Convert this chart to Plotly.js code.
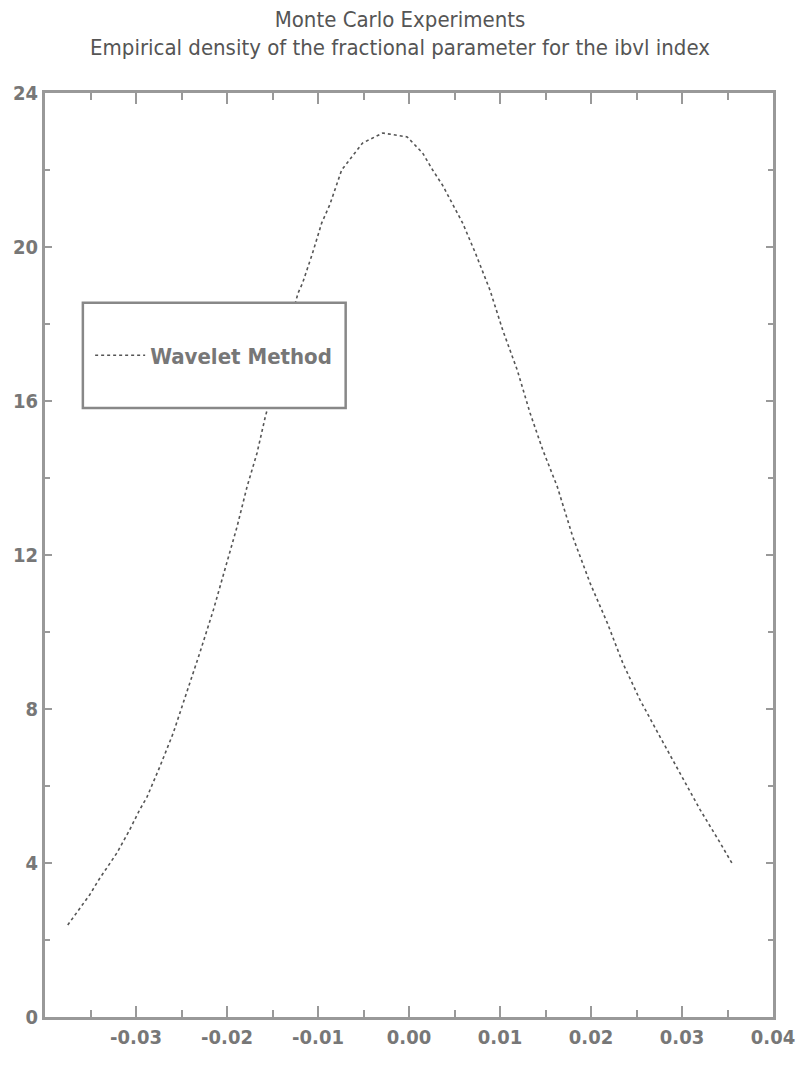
<!DOCTYPE html>
<html>
<head>
<meta charset="utf-8">
<script src="https://cdn.plot.ly/plotly-3.0.1.min.js"></script>
<style>html,body{margin:0;padding:0;background:#fff;}#chart{width:800px;height:1065px;}</style>
</head>
<body>
<div id="chart"></div>
<script>
var seriesName = "Wavelet Method";
var densityX = [-0.0375, -0.0351, -0.0341, -0.0321, -0.0307, -0.0296, -0.0288, -0.0281, -0.0274, -0.0259,
  -0.0244, -0.0230, -0.0215, -0.0200, -0.0189, -0.0178, -0.0167, -0.0158, -0.0122, -0.0117,
  -0.0106, -0.0096, -0.0087, -0.0074, -0.0051, -0.0029, -0.0002, 0.0015, 0.0026, 0.0037,
  0.0048, 0.0059, 0.0073, 0.0089, 0.0103, 0.0119, 0.0133, 0.0147, 0.0163, 0.0180,
  0.0199, 0.0218, 0.0235, 0.0254, 0.0276, 0.0298, 0.0320, 0.0342, 0.0356];
var densityY = [2.39, 3.17, 3.56, 4.26, 4.86, 5.38, 5.71, 6.10, 6.49, 7.38,
  8.42, 9.45, 10.57, 11.79, 12.73, 13.77, 14.65, 15.58, 18.80, 19.06,
  19.84, 20.62, 21.10, 22.00, 22.70, 22.96, 22.86, 22.44, 22.00, 21.60,
  21.10, 20.62, 19.84, 18.88, 17.84, 16.80, 15.69, 14.73, 13.77, 12.47,
  11.27, 10.23, 9.19, 8.23, 7.27, 6.34, 5.38, 4.52, 3.95];
var xTickVals = [-0.03, -0.02, -0.01, 0.00, 0.01, 0.02, 0.03, 0.04];
var xTickText = ["-0.03", "-0.02", "-0.01", "0.00", "0.01", "0.02", "0.03", "0.04"];
var yTickVals = [0, 4, 8, 12, 16, 20, 24];
var yTickText = ["0", "4", "8", "12", "16", "20", "24"];

var fam = "DejaVu Sans Condensed, Liberation Sans Narrow, sans-serif";
var tickFont = {family: fam, size: 20, color: "#777", weight: "bold"};

var trace = {
  x: densityX, y: densityY, type: "scatter", mode: "lines", name: seriesName,
  line: {color: "#555", width: 1.6, dash: "dot"}
};

var layout = {
  width: 800, height: 1065,
  margin: {l: 45, r: 27, t: 93, b: 48},
  paper_bgcolor: "#fff", plot_bgcolor: "#fff",
  title: {
    text: "Monte Carlo Experiments<br>Empirical density of the fractional parameter for the ibvl index",
    font: {family: fam, size: 22, color: "#555"},
    x: 0.5, xanchor: "center", yref: "container", y: 0.975, yanchor: "top"
  },
  showlegend: true,
  legend: {
    x: 0.062, y: 0.716, xanchor: "left", yanchor: "middle",
    bgcolor: "rgba(0,0,0,0)", borderwidth: 0, itemwidth: 50,
    font: {family: fam, size: 22, color: "#777", weight: "bold"}
  },
  xaxis: {
    range: [-0.04, 0.04], tickmode: "array", tickvals: xTickVals, ticktext: xTickText,
    showgrid: false, zeroline: false, showline: true, mirror: "ticks",
    linecolor: "#999", linewidth: 3, ticks: "inside", ticklen: 11, tickwidth: 2, tickcolor: "#999",
    minor: {dtick: 0.005, ticks: "inside", ticklen: 7, tickwidth: 2, tickcolor: "#999", showgrid: false},
    tickfont: tickFont
  },
  yaxis: {
    range: [0, 24], tickmode: "array", tickvals: yTickVals, ticktext: yTickText,
    showgrid: false, zeroline: false, showline: true, mirror: "ticks",
    linecolor: "#999", linewidth: 3, ticks: "inside", ticklen: 7, tickwidth: 2, tickcolor: "#999",
    minor: {dtick: 2, ticks: "inside", ticklen: 5, tickwidth: 2, tickcolor: "#999", showgrid: false},
    tickfont: tickFont
  },
  shapes: [{
    type: "rect", xref: "paper", yref: "paper",
    x0: 0.052, x1: 0.413, y0: 0.659, y1: 0.773,
    line: {color: "#888", width: 2.5}, fillcolor: "#fff", layer: "above"
  }]
};

Plotly.newPlot("chart", [trace], layout, {displayModeBar: false, staticPlot: true});
</script>
</body>
</html>
